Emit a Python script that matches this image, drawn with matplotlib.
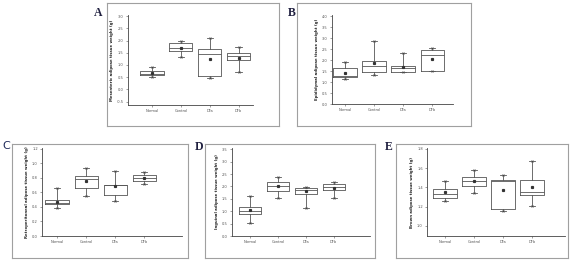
import matplotlib
matplotlib.use("Agg")
import numpy as np
import matplotlib.pyplot as plt

W, H = 572, 260

groups = ["Normal", "Control", "DFa", "DFb"]

# rows per group: whisker low, q1, median, q3, whisker high, mean
mesenteric = [[0.50, 0.57, 0.65, 0.74, 0.93, 0.68],
              [1.33, 1.57, 1.71, 1.89, 1.97, 1.69],
              [0.47, 0.54, 1.47, 1.64, 2.10, 1.26],
              [0.71, 1.21, 1.36, 1.50, 1.74, 1.29]]
epididymal = [[1.12, 1.24, 1.27, 1.62, 1.89, 1.42],
              [1.32, 1.47, 1.73, 1.95, 2.88, 1.85],
              [1.47, 1.47, 1.62, 1.74, 2.33, 1.70],
              [1.50, 1.50, 2.23, 2.48, 2.56, 2.06]]
retroperitoneal = [[0.383, 0.434, 0.46, 0.489, 0.655, 0.47],
                   [0.55, 0.66, 0.785, 0.82, 0.93, 0.75],
                   [0.475, 0.568, 0.70, 0.706, 0.90, 0.683],
                   [0.72, 0.752, 0.80, 0.845, 0.88, 0.80]]
inguinal = [[0.54, 0.89, 1.00, 1.19, 1.62, 1.05],
            [1.55, 1.82, 2.00, 2.16, 2.36, 2.00],
            [1.14, 1.70, 1.86, 1.93, 1.97, 1.80],
            [1.53, 1.84, 1.97, 2.09, 2.16, 1.93]]
brown = [[1.264, 1.289, 1.334, 1.383, 1.463, 1.348],
         [1.341, 1.417, 1.463, 1.504, 1.577, 1.463],
         [1.157, 1.174, 1.463, 1.473, 1.532, 1.369],
         [1.209, 1.323, 1.355, 1.473, 1.671, 1.403]]


def fr(x0, y0, x1, y1):
    return [x0 / W, 1 - y1 / H, (x1 - x0) / W, (y1 - y0) / H]


panels = [
    dict(letter="A", lpos=(94, 13), frame=(107, 3, 279, 126), box=(128, 15, 253, 105),
         label="Mesenteric adipose tissue weight (g)", data=mesenteric,
         ylim=(-0.64, 3.05), yticks=np.arange(-0.5, 3.01, 0.5), xlim=(0.17, 4.5)),
    dict(letter="B", lpos=(288, 13), frame=(297, 3, 471, 126), box=(332, 15, 453, 104),
         label="Epididymal adipose tissue weight (g)", data=epididymal,
         ylim=(0, 4.05), yticks=np.arange(0, 4.01, 0.5), xlim=(0.55, 4.72)),
    dict(letter="C", lpos=(2, 146), frame=(12, 144, 188, 258), box=(42, 148, 182, 236),
         label="Retroperitoneal adipose tissue weight (g)", data=retroperitoneal,
         ylim=(0, 1.21), yticks=np.arange(0, 1.21, 0.2), xlim=(0.48, 5.3)),
    dict(letter="D", lpos=(195, 147), frame=(205, 144, 375, 258), box=(232, 148, 370, 236),
         label="Inguinal adipose tissue weight (g)", data=inguinal,
         ylim=(0, 3.55), yticks=np.arange(0, 3.51, 0.5), xlim=(0.36, 5.3)),
    dict(letter="E", lpos=(385, 147), frame=(396, 144, 568, 258), box=(427, 148, 565, 236),
         label="Brown adipose tissue weight (g)", data=brown,
         ylim=(0.896, 1.81), yticks=np.arange(1.0, 1.81, 0.2), xlim=(0.38, 5.14)),
]

fig = plt.figure(figsize=(W / 100, H / 100), dpi=100)

for p in panels:
    # outer frame around each panel
    fa = fig.add_axes(fr(*p["frame"]))
    fa.set_xticks([]); fa.set_yticks([])
    fa.patch.set_alpha(0)
    for s in fa.spines.values():
        s.set_color("#a0a0a0"); s.set_linewidth(0.8)

    ax = fig.add_axes(fr(*p["box"]))
    ax.patch.set_alpha(0)
    stats = []
    for row in p["data"]:
        lo, q1, med, q3, hi, mn = row
        stats.append(dict(whislo=lo, q1=q1, med=med, q3=q3, whishi=hi, mean=mn, fliers=[]))
    pos = np.arange(1, len(groups) + 1)
    line = dict(color="#555555", linewidth=0.6)
    ax.bxp(stats, positions=pos, widths=0.8, showmeans=True, capwidths=0.22,
           boxprops=line, whiskerprops=line, capprops=line, medianprops=line,
           meanprops=dict(marker="s", markersize=1.3, markerfacecolor="#333333",
                          markeredgecolor="#333333"))
    d = np.array(p["data"])
    ax.plot(pos, d[:, 0], "x", ms=1.4, mew=0.5, color="#444444")
    ax.plot(pos, d[:, 4], "x", ms=1.4, mew=0.5, color="#444444")

    ax.set_xlim(*p["xlim"])
    ax.set_ylim(*p["ylim"])
    ax.set_yticks(p["yticks"])
    ax.set_yticklabels(["%.1f" % v for v in p["yticks"]])
    ax.set_xticks(pos)
    ax.set_xticklabels(groups)
    ax.tick_params(length=1.5, width=0.4, labelsize=2.6, pad=1.5, colors="#555555")
    ax.spines["top"].set_visible(False)
    ax.spines["right"].set_visible(False)
    for s in ("left", "bottom"):
        ax.spines[s].set_linewidth(0.6); ax.spines[s].set_color("#444444")
    ax.set_ylabel(p["label"], fontsize=2.8, fontweight="bold", labelpad=2, color="#222222")

    lx, ly = p["lpos"]
    if p["letter"] == "C":
        fig.text(lx / W, 1 - ly / H, "C", fontsize=8, color="#1f2a5a", va="center")
    else:
        fig.text(lx / W, 1 - ly / H, p["letter"], fontsize=8.5, fontweight="bold",
                 family="Liberation Serif", color="#1f1f3f", va="center")

fig.savefig("out.png", dpi=100, facecolor="white")
